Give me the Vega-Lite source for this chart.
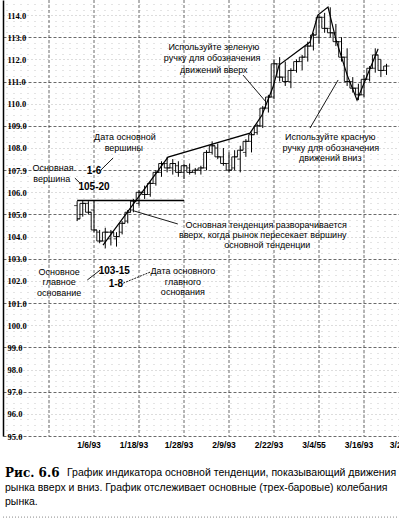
{
  "$schema": "https://vega.github.io/schema/vega-lite/v6.json",
  "width": 396,
  "height": 436,
  "autosize": {"type": "none"},
  "padding": {"left": 3, "top": 0, "right": 0, "bottom": 89},
  "background": "white",
  "config": {"view": {"stroke": null}, "axis": {"title": null}},
  "datasets": {
    "bars": [
      {"i": -3, "h": 105.6, "l": 104.7, "o": 105.4, "c": 104.8},
      {"i": -2, "h": 105.62, "l": 104.9, "o": 105.0, "c": 105.5},
      {"i": -1, "h": 105.6, "l": 105.0, "o": 105.5, "c": 105.1},
      {"i": 0, "h": 105.62, "l": 104.2, "o": 105.2, "c": 104.3},
      {"i": 1, "h": 104.3, "l": 103.7, "o": 104.2, "c": 103.8},
      {"i": 2, "h": 104.4, "l": 103.47, "o": 103.8, "c": 104.2},
      {"i": 3, "h": 104.3, "l": 103.6, "o": 103.9, "c": 104.2},
      {"i": 4, "h": 104.2, "l": 103.55, "o": 103.9, "c": 104.0},
      {"i": 5, "h": 104.7, "l": 104.1, "o": 104.2, "c": 104.6},
      {"i": 6, "h": 105.2, "l": 104.6, "o": 104.7, "c": 105.1},
      {"i": 7, "h": 105.7, "l": 105.1, "o": 105.2, "c": 105.6},
      {"i": 8, "h": 106.1, "l": 105.4, "o": 105.5, "c": 106.0},
      {"i": 9, "h": 106.3, "l": 105.7, "o": 106.0, "c": 105.9},
      {"i": 10, "h": 106.5, "l": 105.8, "o": 105.9, "c": 106.4},
      {"i": 11, "h": 107.0, "l": 106.3, "o": 106.4, "c": 106.9},
      {"i": 12, "h": 107.4, "l": 106.7, "o": 106.9, "c": 107.3},
      {"i": 13, "h": 107.6, "l": 106.9, "o": 107.3, "c": 107.1},
      {"i": 14, "h": 107.5, "l": 106.8, "o": 107.1, "c": 107.3},
      {"i": 15, "h": 107.4, "l": 106.7, "o": 107.2, "c": 106.9},
      {"i": 16, "h": 107.3, "l": 106.6, "o": 106.9, "c": 107.2},
      {"i": 17, "h": 107.3, "l": 106.8, "o": 107.1, "c": 106.9},
      {"i": 18, "h": 107.1, "l": 106.8, "o": 106.9, "c": 107.0},
      {"i": 19, "h": 107.2, "l": 106.8, "o": 107.0, "c": 107.1},
      {"i": 20, "h": 107.9, "l": 107.0, "o": 107.1, "c": 107.8},
      {"i": 21, "h": 108.3, "l": 107.7, "o": 107.8, "c": 108.1},
      {"i": 22, "h": 108.2, "l": 107.5, "o": 108.0, "c": 107.6},
      {"i": 23, "h": 108.0, "l": 107.2, "o": 107.6, "c": 107.3},
      {"i": 24, "h": 107.8, "l": 106.9, "o": 107.3, "c": 107.0},
      {"i": 25, "h": 107.9, "l": 107.0, "o": 107.1, "c": 107.6},
      {"i": 26, "h": 108.1, "l": 106.9, "o": 107.5, "c": 107.9},
      {"i": 27, "h": 108.4, "l": 107.6, "o": 107.8, "c": 108.3},
      {"i": 28, "h": 108.7, "l": 107.8, "o": 108.3, "c": 108.6},
      {"i": 29, "h": 109.1, "l": 108.6, "o": 108.7, "c": 109.0},
      {"i": 30, "h": 109.9, "l": 108.9, "o": 109.0, "c": 109.8},
      {"i": 31, "h": 110.4, "l": 109.6, "o": 109.8, "c": 110.3},
      {"i": 32, "h": 112.0, "l": 110.2, "o": 110.3, "c": 111.8},
      {"i": 33, "h": 112.1, "l": 111.0, "o": 111.8, "c": 111.2},
      {"i": 34, "h": 111.9, "l": 110.8, "o": 111.2, "c": 111.0},
      {"i": 35, "h": 111.6, "l": 110.7, "o": 111.0, "c": 111.5},
      {"i": 36, "h": 112.0, "l": 111.4, "o": 111.5, "c": 111.9},
      {"i": 37, "h": 112.2, "l": 111.5, "o": 111.9, "c": 112.1},
      {"i": 38, "h": 112.8, "l": 111.9, "o": 112.1, "c": 112.6},
      {"i": 39, "h": 113.2, "l": 112.4, "o": 112.6, "c": 113.1},
      {"i": 40, "h": 114.0, "l": 112.7, "o": 113.0, "c": 113.9},
      {"i": 41, "h": 114.1, "l": 113.2, "o": 113.9, "c": 113.4},
      {"i": 42, "h": 114.35, "l": 113.0, "o": 113.4, "c": 113.2},
      {"i": 43, "h": 113.6, "l": 112.6, "o": 113.2, "c": 112.8},
      {"i": 44, "h": 113.0, "l": 111.9, "o": 112.8, "c": 112.1},
      {"i": 45, "h": 112.5, "l": 110.8, "o": 112.1, "c": 111.0},
      {"i": 46, "h": 111.2, "l": 110.5, "o": 111.0, "c": 110.7},
      {"i": 47, "h": 110.9, "l": 110.16, "o": 110.7, "c": 110.4},
      {"i": 48, "h": 111.3, "l": 110.3, "o": 110.4, "c": 111.1},
      {"i": 49, "h": 111.7, "l": 111.0, "o": 111.1, "c": 111.6},
      {"i": 50, "h": 112.5, "l": 111.4, "o": 111.6, "c": 112.2},
      {"i": 51, "h": 112.0, "l": 111.2, "o": 112.0, "c": 111.5},
      {"i": 52, "h": 111.8, "l": 111.3, "o": 111.5, "c": 111.7}
    ],
    "pen": [
      {"k": 1, "i": 1.6, "v": 103.62},
      {"k": 2, "i": 13.16, "v": 107.59},
      {"k": 3, "i": 27.73, "v": 108.67},
      {"k": 4, "i": 29.87, "v": 109.49},
      {"k": 5, "i": 31.82, "v": 110.75},
      {"k": 6, "i": 32.9, "v": 111.74},
      {"k": 7, "i": 38.4, "v": 112.78},
      {"k": 8, "i": 39.8, "v": 114.0},
      {"k": 9, "i": 41.6, "v": 114.36},
      {"k": 10, "i": 43.0, "v": 112.9},
      {"k": 11, "i": 45.0, "v": 111.3},
      {"k": 12, "i": 46.76, "v": 110.16},
      {"k": 13, "i": 50.5, "v": 112.47}
    ],
    "top": [{"i": -3, "i2": 16, "v": 105.625}],
    "leaders": [
      {"i": 26.5, "v": 111.29, "i2": 30.6, "v2": 110.07},
      {"i": 38.4, "v": 108.9, "i2": 43.4, "v2": 111.07},
      {"i": 7.1, "v": 105.16, "i2": 14.9, "v2": 104.57},
      {"i": 1.2, "v": 107.0, "i2": 3.4, "v2": 107.55},
      {"i": -3.4, "v": 106.64, "i2": -2.5, "v2": 106.42},
      {"i": -1.2, "v": 102.04, "i2": 1.1, "v2": 102.49}
    ],
    "dleaders": [{"i": 5.2, "v": 101.9, "i2": 10, "v2": 102.4}],
    "xgrid": [{"i": -8}, {"i": 0}, {"i": 8}, {"i": 16}, {"i": 24}, {"i": 32}, {"i": 40}, {"i": 48}],
    "border": [{"i": -16.18, "i2": 54.22, "v": 91.34}],
    "notes": [
      {"i": 21.3, "v": 112.56, "t": "Используйте зеленую"},
      {"i": 21.0, "v": 112.06, "t": "ручку для обозначения"},
      {"i": 21.3, "v": 111.52, "t": "движений вверх"},
      {"i": 42.0, "v": 108.49, "t": "Используйте красную"},
      {"i": 42.1, "v": 108.02, "t": "ручку для обозначения"},
      {"i": 42.0, "v": 107.55, "t": "движений вниз"},
      {"i": 5.5, "v": 108.49, "t": "Дата основной"},
      {"i": 5.3, "v": 108.0, "t": "вершины"},
      {"i": -7.3, "v": 107.1, "t": "Основная"},
      {"i": -7.5, "v": 106.6, "t": "вершина"},
      {"i": -6.2, "v": 102.42, "t": "Основное"},
      {"i": -6.2, "v": 101.95, "t": "главное"},
      {"i": -6.2, "v": 101.45, "t": "основание"},
      {"i": 15.8, "v": 102.45, "t": "Дата основного"},
      {"i": 15.8, "v": 101.97, "t": "главного"},
      {"i": 15.8, "v": 101.48, "t": "основания"},
      {"i": 30.6, "v": 104.52, "t": "Основная тенденция разворачивается"},
      {"i": 30.0, "v": 104.07, "t": "вверх, когда рынок пересекает вершину"},
      {"i": 30.8, "v": 103.62, "t": "основной тенденции"}
    ],
    "bnotes": [
      {"i": 0, "v": 106.96, "t": "1-6"},
      {"i": 0, "v": 106.24, "t": "105-20"},
      {"i": 3.6, "v": 102.45, "t": "103-15"},
      {"i": 3.9, "v": 101.86, "t": "1-8"}
    ],
    "xlab": [
      {"i": 0, "t": "1/6/93"},
      {"i": 8, "t": "1/18/93"},
      {"i": 16, "t": "1/28/93"},
      {"i": 24, "t": "2/9/93"},
      {"i": 32, "t": "2/22/93"},
      {"i": 40, "t": "3/4/55"},
      {"i": 48, "t": "3/16/93"},
      {"i": 56, "t": "3/26/93"}
    ],
    "capbold": [{"i": -15.82, "v": 93.33, "t": "Рис. 6.6"}],
    "cap": [
      {"i": -4.8, "v": 93.33, "t": "График индикатора основной тенденции, показывающий движения"},
      {"i": -15.82, "v": 92.66, "t": "рынка вверх и вниз. График отслеживает основные (трех-баровые) колебания"},
      {"i": -15.82, "v": 92.02, "t": "рынка."}
    ]
  },
  "layer": [
    {
      "data": {"name": "bars"},
      "mark": {"type": "rule", "color": "black", "strokeWidth": 1},
      "encoding": {
        "x": {"field": "i", "type": "quantitative",
          "scale": {"domain": [-16.18, 54.22], "nice": false, "zero": false},
          "axis": {"orient": "bottom", "values": [0], "labels": false, "ticks": false, "grid": false,
            "domainColor": "black", "domainWidth": 1.2}},
        "y": {"field": "l", "type": "quantitative",
          "scale": {"domain": [95, 114.68], "nice": false, "zero": false},
          "axis": {"orient": "left", "values": [95, 96, 97, 98, 99, 100, 101, 102, 103, 104, 105, 106, 107, 108, 109, 110, 111, 112, 113, 114],
            "labelExpr": "datum.value == 107 ? '107.9' : format(datum.value, '.1f')",
            "labelFont": "Liberation Serif", "labelFontWeight": "bold", "labelFontSize": 8.5, "labelColor": "black",
            "labelAlign": "left", "labelPadding": -4, "ticks": false, "domainColor": "black", "domainWidth": 1.5,
            "grid": true,
            "gridColor": {"condition": {"test": "datum.value % 2 == 1", "value": "#444"}, "value": "#aaa"},
            "gridDash": {"condition": {"test": "datum.value % 2 == 1", "value": [3, 2]}, "value": [1, 3]},
            "gridWidth": 0.8}},
        "y2": {"field": "h"}
      }
    },
    {
      "data": {"name": "xgrid"},
      "mark": {"type": "rule", "color": "#444", "strokeWidth": 0.8, "strokeDash": [3, 2]},
      "encoding": {
        "x": {"field": "i", "type": "quantitative", "axis": null}
      }
    },
    {
      "data": {"name": "xlab"},
      "mark": {"type": "text", "font": "Liberation Sans", "fontWeight": "bold", "fontSize": 8.5, "color": "black", "align": "center", "baseline": "middle", "dx": -5, "dy": 9},
      "encoding": {
        "x": {"field": "i", "type": "quantitative", "axis": null},
        "y": {"datum": 95, "type": "quantitative", "axis": null},
        "text": {"field": "t"}
      }
    },
    {
      "data": {"name": "bars"},
      "mark": {"type": "tick", "orient": "horizontal", "color": "black", "size": 3, "thickness": 1, "xOffset": -1.5},
      "encoding": {
        "x": {"field": "i", "type": "quantitative", "axis": null},
        "y": {"field": "o", "type": "quantitative",
          "axis": {"orient": "right", "values": [95.25, 95.5, 95.75, 96.25, 96.5, 96.75, 97.25, 97.5, 97.75, 98.25, 98.5, 98.75, 99.25, 99.5, 99.75, 100.25, 100.5, 100.75, 101.25, 101.5, 101.75, 102.25, 102.5, 102.75, 103.25, 103.5, 103.75, 104.25, 104.5, 104.75, 105.25, 105.5, 105.75, 106.25, 106.5, 106.75, 107.25, 107.5, 107.75, 108.25, 108.5, 108.75, 109.25, 109.5, 109.75, 110.25, 110.5, 110.75, 111.25, 111.5, 111.75, 112.25, 112.5, 112.75, 113.25, 113.5, 113.75, 114.25, 114.5],
            "labels": false, "ticks": false, "domain": false, "grid": true, "gridColor": "#bbb", "gridDash": [1, 6], "gridWidth": 0.8}}
      }
    },
    {
      "data": {"name": "bars"},
      "mark": {"type": "tick", "orient": "horizontal", "color": "black", "size": 3, "thickness": 1, "xOffset": 1.5},
      "encoding": {
        "x": {"field": "i", "type": "quantitative", "axis": null},
        "y": {"field": "c", "type": "quantitative", "axis": null}
      }
    },
    {
      "data": {"name": "bars"},
      "mark": {"type": "line", "interpolate": "step", "color": "black", "strokeWidth": 0.9},
      "encoding": {
        "x": {"field": "i", "type": "quantitative", "axis": null},
        "y": {"field": "c", "type": "quantitative", "axis": null}
      }
    },
    {
      "data": {"name": "pen"},
      "mark": {"type": "line", "color": "black", "strokeWidth": 1.2},
      "encoding": {
        "x": {"field": "i", "type": "quantitative", "axis": null},
        "y": {"field": "v", "type": "quantitative", "axis": null},
        "order": {"field": "k"}
      }
    },
    {
      "data": {"name": "top"},
      "mark": {"type": "rule", "color": "black", "strokeWidth": 1.5},
      "encoding": {
        "x": {"field": "i", "type": "quantitative", "axis": null},
        "x2": {"field": "i2"},
        "y": {"field": "v", "type": "quantitative", "axis": null}
      }
    },
    {
      "data": {"name": "leaders"},
      "mark": {"type": "rule", "color": "black", "strokeWidth": 0.9},
      "encoding": {
        "x": {"field": "i", "type": "quantitative", "axis": null},
        "x2": {"field": "i2"},
        "y": {"field": "v", "type": "quantitative", "axis": null},
        "y2": {"field": "v2"}
      }
    },
    {
      "data": {"name": "dleaders"},
      "mark": {"type": "rule", "color": "black", "strokeWidth": 0.9, "strokeDash": [2, 1]},
      "encoding": {
        "x": {"field": "i", "type": "quantitative", "axis": null},
        "x2": {"field": "i2"},
        "y": {"field": "v", "type": "quantitative", "axis": null},
        "y2": {"field": "v2"}
      }
    },
    {
      "data": {"name": "notes"},
      "mark": {"type": "text", "font": "Liberation Sans", "fontSize": 9, "color": "black", "align": "center", "baseline": "middle"},
      "encoding": {
        "x": {"field": "i", "type": "quantitative", "axis": null},
        "y": {"field": "v", "type": "quantitative", "axis": null},
        "text": {"field": "t"}
      }
    },
    {
      "data": {"name": "bnotes"},
      "mark": {"type": "text", "font": "Liberation Sans", "fontSize": 10, "fontWeight": "bold", "color": "black", "align": "center", "baseline": "middle"},
      "encoding": {
        "x": {"field": "i", "type": "quantitative", "axis": null},
        "y": {"field": "v", "type": "quantitative", "axis": null},
        "text": {"field": "t"}
      }
    },
    {
      "data": {"name": "capbold"},
      "mark": {"type": "text", "font": "DejaVu Serif", "fontSize": 12, "fontWeight": "bold", "color": "black", "align": "left", "baseline": "middle"},
      "encoding": {
        "x": {"field": "i", "type": "quantitative", "axis": null},
        "y": {"field": "v", "type": "quantitative", "axis": null},
        "text": {"field": "t"}
      }
    },
    {
      "data": {"name": "cap"},
      "mark": {"type": "text", "font": "Liberation Sans", "fontSize": 10.5, "color": "black", "align": "left", "baseline": "middle"},
      "encoding": {
        "x": {"field": "i", "type": "quantitative", "axis": null},
        "y": {"field": "v", "type": "quantitative", "axis": null},
        "text": {"field": "t"}
      }
    },
    {
      "data": {"name": "border"},
      "mark": {"type": "rule", "color": "#888", "strokeDash": [1, 2], "strokeWidth": 1},
      "encoding": {
        "x": {"field": "i", "type": "quantitative", "axis": null},
        "x2": {"field": "i2"},
        "y": {"field": "v", "type": "quantitative", "axis": null}
      }
    }
  ]
}
